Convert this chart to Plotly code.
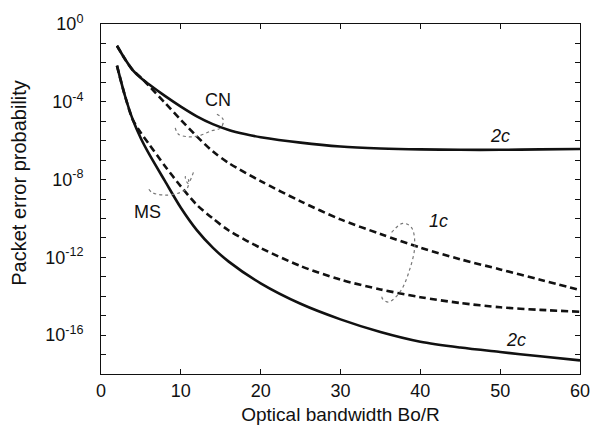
import plotly.graph_objects as go

# Packet error probability versus optical bandwidth, stored as log10 values
x_cn2 = [2, 3, 4, 5, 6, 8, 10, 12, 14, 16, 18, 20, 25, 30, 35, 40, 45, 50, 55, 60]
cn_2c_log = [-1.12, -1.8, -2.38, -2.78, -3.1, -3.7, -4.25, -4.75, -5.15, -5.45, -5.66, -5.82,
             -6.1, -6.3, -6.4, -6.45, -6.47, -6.47, -6.45, -6.43]

x_cn1 = [2, 3, 4, 5, 6, 8, 10, 12, 14, 16, 20, 25, 30, 35, 40, 45, 50, 55, 60]
cn_1c_log = [-1.12, -1.8, -2.38, -2.75, -3.18, -4.05, -4.93, -5.78, -6.55, -7.15, -8.08, -9.12,
             -10.05, -10.8, -11.5, -12.1, -12.62, -13.15, -13.68]

x_ms = [2, 3, 4, 5, 6, 8, 10, 12, 14, 16, 20, 25, 30, 35, 40, 45, 50, 55, 60]
ms_2c_log = [-2.14, -3.69, -4.94, -5.89, -6.67, -8.07, -9.45, -10.6, -11.5, -12.22, -13.34, -14.39,
             -15.19, -15.84, -16.34, -16.64, -16.87, -17.09, -17.3]
ms_1c_log = [-2.14, -3.69, -4.94, -5.6, -6.17, -7.3, -8.35, -9.3, -10.0, -10.62, -11.52, -12.45,
             -13.15, -13.65, -14.05, -14.35, -14.57, -14.7, -14.8]

# Decade exponents for the y axis; only every fourth one is labelled
y_decades = list(range(0, -19, -1))
y_label_decades = [0, -4, -8, -12, -16]
x_ticks = [0, 10, 20, 30, 40, 50, 60]

# Hand-drawn group brackets (x, log10 y)
cn_bracket_x = [9.3, 9.7, 11.0, 12.2, 13.8, 15.0, 15.3, 14.25]
cn_bracket_log = [-5.34, -5.67, -5.8, -5.76, -5.5, -5.34, -4.91, -4.58]
ms_bracket_x = [6.0, 6.4, 8.1, 9.9, 10.8, 10.95, 10.55, 10.9, 11.6]
ms_bracket_log = [-8.5, -8.67, -8.8, -8.67, -8.45, -8.0, -7.85, -8.2, -7.6]
c1_bracket_x = [36.4, 37.8, 38.9, 39.3, 38.7, 37.5, 36.0, 35.2, 35.4]
c1_bracket_log = [-10.72, -10.25, -10.47, -11.4, -12.58, -13.75, -14.3, -14.09, -13.92]

BLACK = "#111111"
FONT = "Liberation Sans, Arial, sans-serif"

fig = go.Figure()


def curve(xs, logs, dash):
    fig.add_trace(go.Scatter(
        x=xs, y=[10 ** v for v in logs], mode="lines",
        line=dict(color=BLACK, width=2.6, dash=dash, shape="spline", smoothing=0.8),
        hoverinfo="skip", showlegend=False,
    ))


curve(x_cn2, cn_2c_log, "solid")
curve(x_cn1, cn_1c_log, "7px,4px")
curve(x_ms, ms_2c_log, "solid")
curve(x_ms, ms_1c_log, "7px,4px")

for bx, bl in [(cn_bracket_x, cn_bracket_log), (ms_bracket_x, ms_bracket_log), (c1_bracket_x, c1_bracket_log)]:
    fig.add_trace(go.Scatter(
        x=bx, y=[10 ** v for v in bl], mode="lines",
        line=dict(color="#777777", width=1.2, dash="dot", shape="spline"),
        hoverinfo="skip", showlegend=False,
    ))

labels = [
    ("CN", 14.66, -3.89, False),
    ("MS", 5.8, -9.65, False),
    ("1c", 42.3, -10.15, True),
    ("2c", 50.0, -5.76, True),
    ("2c", 52.0, -16.26, True),
]
for text, lx, ll, ital in labels:
    fig.add_annotation(
        x=lx, y=ll, text=f"<i>{text}</i>" if ital else text, showarrow=False,
        font=dict(family=FONT, size=18, color=BLACK),
    )

# Y-axis title placed by hand so it sits slightly above the axis centre
fig.add_annotation(
    x=-0.170, y=0.545, xref="paper", yref="paper", text="Packet error probability",
    textangle=-90, showarrow=False, xanchor="center", yanchor="middle",
    font=dict(family=FONT, size=20, color=BLACK),
)

fig.update_layout(
    width=602, height=434,
    margin=dict(l=101, r=14, t=21, b=57),
    paper_bgcolor="white", plot_bgcolor="white",
    font=dict(family=FONT, size=18, color=BLACK),
)
fig.update_xaxes(
    range=[0, 60], tickvals=x_ticks, ticks="inside", ticklen=5, tickcolor=BLACK,
    showline=True, linecolor=BLACK, linewidth=1, mirror="ticks", showgrid=False, zeroline=False,
    title=dict(text="Optical bandwidth Bo/R", standoff=8, font=dict(size=19)),
    tickfont=dict(size=18),
)
fig.update_yaxes(
    type="log", range=[-18, 0],
    tickvals=[10 ** d for d in y_decades],
    ticktext=[f"10<sup>{d}</sup>" if d in y_label_decades else "" for d in y_decades],
    ticks="inside", ticklen=5, tickcolor=BLACK, ticklabelstandoff=13,
    showline=True, linecolor=BLACK, linewidth=1, mirror="ticks", showgrid=False, zeroline=False,
    tickfont=dict(size=18),
)

fig.write_html("out.html")
